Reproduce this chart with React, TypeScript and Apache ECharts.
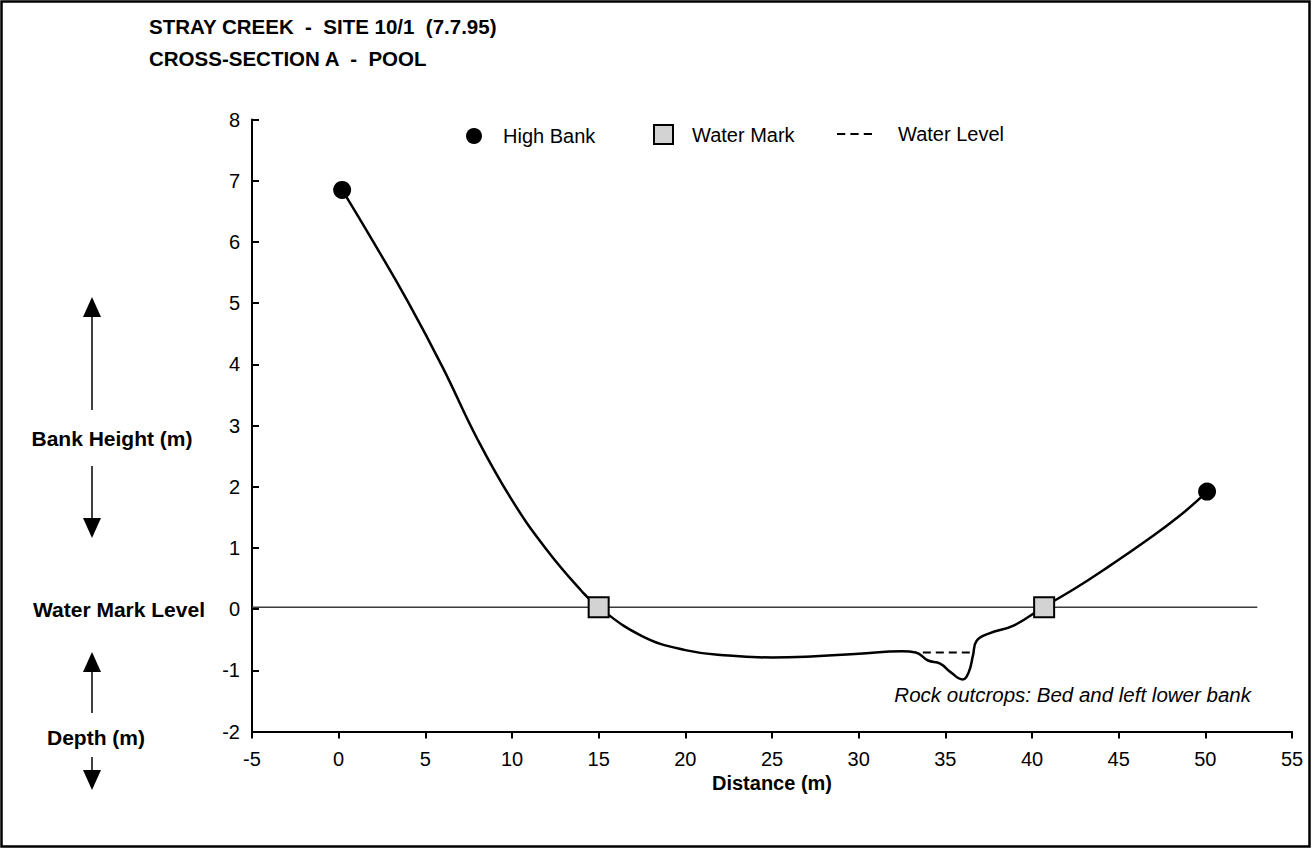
import React, { useEffect, useRef } from "react";
import * as echarts from "echarts";

// ---- data ----
const profileX = [0.2, 2.0, 4.0, 6.0, 8.0, 10.0, 12.0, 14.0, 15.0, 17.5, 20.0, 22.5, 25.0, 27.5, 30.0, 32.5, 33.3, 34.0, 34.7, 35.3, 36.0, 36.35, 36.6, 36.8, 37.5, 39.0, 40.7, 42.5, 44.5, 46.5, 48.5, 50.1];
const profileY = [6.85, 6.0, 5.02, 3.95, 2.78, 1.78, 0.97, 0.3, 0.03, -0.44, -0.67, -0.76, -0.79, -0.77, -0.73, -0.69, -0.71, -0.84, -0.89, -1.03, -1.15, -1.03, -0.75, -0.52, -0.4, -0.26, 0.04, 0.34, 0.71, 1.1, 1.52, 1.92];

const highBankX = [0.2, 50.1];
const highBankY = [6.85, 1.92];

const waterMarkX = [15.0, 40.7];
const waterMarkY = [0.03, 0.03];

const waterMarkLevelX = [-5, 53];
const waterMarkLevelY = [0.03, 0.03];

const waterLevelX = [33.7, 36.6];
const waterLevelY = [-0.71, -0.71];

const xAxisMin = -5;
const xAxisMax = 55;
const xAxisStep = 5;
const yAxisMin = -2;
const yAxisMax = 8;
const yAxisStep = 1;

const titleLines = ["STRAY CREEK  -  SITE 10/1  (7.7.95)", "CROSS-SECTION A  -  POOL"];
const seriesNames = ["High Bank", "Water Mark", "Water Level"];
const annotation = "Rock outcrops: Bed and left lower bank";

const pairs = (xs: number[], ys: number[]) => xs.map((x, i) => [x, ys[i]]);

const FONT = '"Liberation Sans", Arial, sans-serif';
const FS = 20;

export default function App() {
  const ref = useRef<HTMLDivElement>(null);

  useEffect(() => {
    document.body.style.margin = "0";
    const chart = echarts.init(ref.current!, null, { renderer: "svg" });

    const arrowX = 92;
    const arrow = (tipY: number, tailY: number) => {
      const dir = tipY < tailY ? 1 : -1;
      const headLen = 20;
      const half = 9;
      const baseY = tipY + dir * headLen;
      return [
        {
          type: "line",
          silent: true,
          shape: { x1: arrowX, y1: baseY, x2: arrowX, y2: tailY },
          style: { stroke: "#000", lineWidth: 1.5 },
        },
        {
          type: "polygon",
          silent: true,
          shape: { points: [[arrowX, tipY], [arrowX - half, baseY], [arrowX + half, baseY]] },
          style: { fill: "#000" },
        },
      ];
    };

    const sideLabel = (text: string, x: number, y: number) => ({
      type: "text",
      silent: true,
      x,
      y,
      style: { text, font: `bold 21px ${FONT}`, fill: "#000", align: "center", verticalAlign: "middle" },
    });

    const option: any = {
      animation: false,
      backgroundColor: "#fff",
      title: {
        text: titleLines.join("\n"),
        left: 149,
        top: 10,
        padding: 0,
        textStyle: { fontFamily: FONT, fontSize: 20.5, fontWeight: "bold", lineHeight: 32, color: "#000" },
      },
      legend: [
        {
          data: [{ name: seriesNames[0], icon: "circle" }],
          left: 466,
          top: 126,
          padding: 0,
          itemWidth: 16,
          itemHeight: 16,
          selectedMode: false,
          textStyle: { fontFamily: FONT, fontSize: FS, color: "#000", padding: [0, 0, 0, 16] },
        },
        {
          data: [{ name: seriesNames[1], icon: "rect" }],
          left: 653,
          top: 124,
          padding: 0,
          itemWidth: 19,
          itemHeight: 19,
          selectedMode: false,
          textStyle: { fontFamily: FONT, fontSize: FS, color: "#000", padding: [0, 0, 0, 14] },
        },
        {
          data: [{ name: seriesNames[2], icon: "path://M0,0h8v2h-8zM13,0h8v2h-8zM26,0h8v2h-8z" }],
          left: 837,
          top: 124,
          padding: 0,
          itemWidth: 35,
          itemHeight: 19,
          selectedMode: false,
          textStyle: { fontFamily: FONT, fontSize: FS, color: "#000", padding: [0, 0, 0, 21] },
        },
      ],
      grid: { left: 252, right: 21, top: 119.5, bottom: 124.5, containLabel: false },
      xAxis: {
        type: "value",
        min: xAxisMin,
        max: xAxisMax,
        interval: xAxisStep,
        name: "Distance (m)",
        nameLocation: "middle",
        nameGap: 19,
        nameTextStyle: { fontFamily: FONT, fontSize: FS, fontWeight: "bold", color: "#000" },
        axisLine: { show: true, onZero: false, lineStyle: { color: "#000", width: 2 } },
        axisTick: { show: true, inside: false, length: 7, lineStyle: { color: "#000", width: 2 } },
        axisLabel: { fontFamily: FONT, fontSize: FS, color: "#000", margin: 17 },
        splitLine: { show: false },
      },
      yAxis: {
        type: "value",
        min: yAxisMin,
        max: yAxisMax,
        interval: yAxisStep,
        axisLine: { show: true, onZero: false, lineStyle: { color: "#000", width: 2 } },
        axisTick: { show: true, inside: true, length: 7, lineStyle: { color: "#000", width: 2 } },
        axisLabel: { fontFamily: FONT, fontSize: FS, color: "#000", margin: 12 },
        splitLine: { show: false },
      },
      series: [
        {
          name: "Water Mark Level",
          type: "line",
          data: pairs(waterMarkLevelX, waterMarkLevelY),
          symbol: "none",
          lineStyle: { color: "#3a3a3a", width: 1.5 },
          z: 1,
          silent: true,
        },
        {
          name: "Profile",
          type: "line",
          data: pairs(profileX, profileY),
          smooth: 0.45,
          symbol: "none",
          lineStyle: { color: "#000", width: 2.5 },
          z: 2,
          silent: true,
        },
        {
          name: seriesNames[2],
          type: "line",
          data: pairs(waterLevelX, waterLevelY),
          symbol: "none",
          color: "#000",
          itemStyle: { color: "#000" },
          lineStyle: { color: "#000", width: 2, type: [8, 5] },
          z: 3,
          silent: true,
        },
        {
          name: seriesNames[0],
          type: "scatter",
          data: pairs(highBankX, highBankY),
          symbol: "circle",
          symbolSize: 18,
          itemStyle: { color: "#000", opacity: 1 },
          z: 4,
          silent: true,
        },
        {
          name: seriesNames[1],
          type: "scatter",
          data: pairs(waterMarkX, waterMarkY),
          symbol: "rect",
          symbolSize: 20,
          itemStyle: { color: "#d3d3d3", borderColor: "#000", borderWidth: 2, opacity: 1 },
          z: 5,
          silent: true,
        },
      ],
      graphic: [
        ...arrow(297, 410),
        sideLabel("Bank Height (m)", 112, 438),
        ...arrow(538, 466),
        sideLabel("Water Mark Level", 119, 609),
        ...arrow(652, 713),
        sideLabel("Depth (m)", 96, 737),
        ...arrow(790, 757),
        {
          type: "text",
          silent: true,
          x: 1251,
          y: 694,
          style: { text: annotation, font: `italic 20.5px ${FONT}`, fill: "#000", align: "right", verticalAlign: "middle" },
        },
        {
          type: "rect",
          silent: true,
          z: 100,
          shape: { x: 1.5, y: 1.5, width: 1308, height: 845 },
          style: { fill: "none", stroke: "#000", lineWidth: 2.5 },
        },
      ],
    };

    chart.setOption(option);
    return () => chart.dispose();
  }, []);

  return <div ref={ref} style={{ width: 1313, height: 856 }} />;
}
